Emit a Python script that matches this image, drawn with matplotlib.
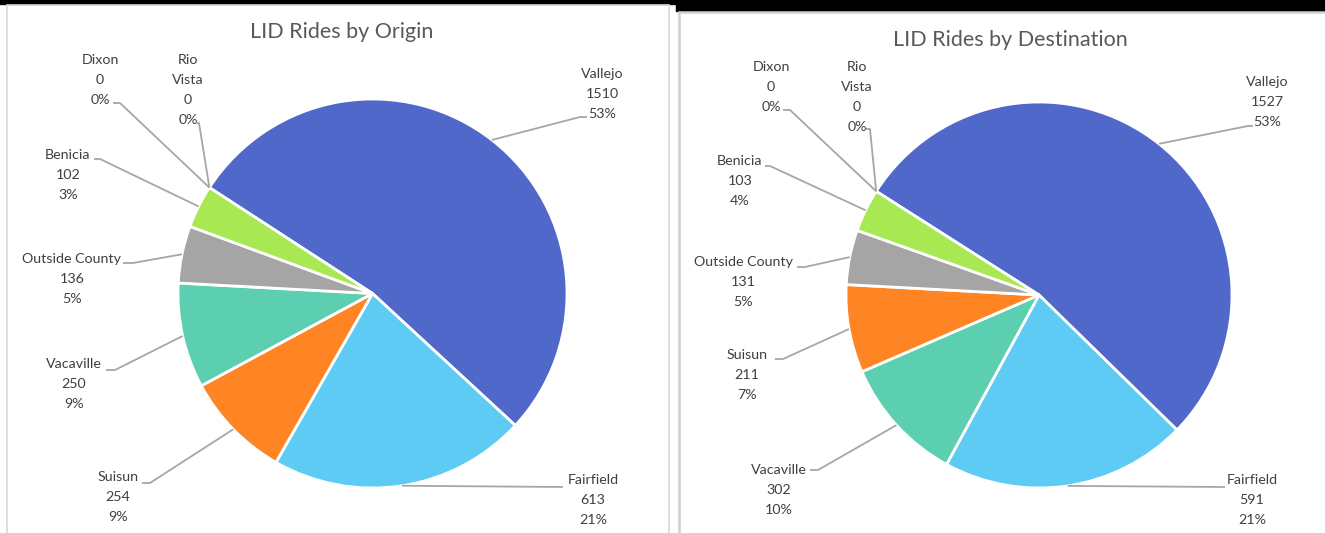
import numpy as np
import matplotlib
matplotlib.use('Agg')
import matplotlib.pyplot as plt
from matplotlib.patches import Rectangle

W, H = 1325, 533

# data
origin_names = ['Vallejo', 'Fairfield', 'Suisun', 'Vacaville', 'Outside County', 'Benicia', 'Dixon', 'Rio\nVista']
origin_rides = [1510, 613, 254, 250, 136, 102, 0, 0]
origin_pct = ['53%', '21%', '9%', '9%', '5%', '3%', '0%', '0%']

dest_names = ['Vallejo', 'Fairfield', 'Vacaville', 'Suisun', 'Outside County', 'Benicia', 'Dixon', 'Rio\nVista']
dest_rides = [1527, 591, 302, 211, 131, 103, 0, 0]
dest_pct = ['53%', '21%', '10%', '7%', '5%', '4%', '0%', '0%']

city_colors = {
    'Vallejo': '#5068C9', 'Fairfield': '#5DCBF3', 'Suisun': '#FF8424',
    'Vacaville': '#5CCFB1', 'Outside County': '#A5A5A5', 'Benicia': '#A8E853',
    'Dixon': '#FFFFFF', 'Rio\nVista': '#FFFFFF',
}

# label layout in pixels: text centre x, text centre y, elbow x, elbow y, tail x
origin_layout = [
    (602, 94, 580, 117, 587), (593, 500, 563, 487, 563), (118, 497, 150, 483, 142),
    (74, 384, 115, 370, 106), (72, 279, 133, 263, 123), (68, 175, 100, 159, 94),
    (100, 80, 120, 103, 113), (188, 90, 199, 123, 197),
]
dest_layout = [
    (1267, 102, 1248, 126, 1253), (1252, 500, 1225, 487, 1225), (779, 490, 818, 470, 810),
    (747, 375, 783, 359, 775), (743, 282, 805, 267, 797), (740, 181, 770, 166, 765),
    (771, 87, 790, 110, 783), (857, 97, 870, 129, 866),
]

plt.rcParams['font.family'] = ['Lato', 'DejaVu Sans']

fig = plt.figure(figsize=(W / 100, H / 100), dpi=100)
ax = fig.add_axes([0, 0, 1, 1])


def Y(y):
    return H - y


def drawPie(names, rides, pct, layout, center, radius, start, title, title_xy):
    cx, cy = center
    vals = np.array(rides, dtype=float)
    keep = vals > 0
    cols = [city_colors[n] for n, k in zip(names, keep) if k]
    ax.pie(vals[keep], colors=cols, startangle=start, counterclock=False,
           center=(cx, Y(cy)), radius=radius, frame=True,
           wedgeprops=dict(edgecolor='white', linewidth=2))
    # mid angle of each wedge, used for the leader line anchor
    fracs = vals / vals.sum()
    ends = start - np.cumsum(fracs) * 360
    mids = ends + fracs * 180
    for name, v, p, mid, lay in zip(names, rides, pct, mids, layout):
        tx, ty, ex, ey, tail = lay
        a = np.deg2rad(mid)
        px = cx + radius * np.cos(a)
        py = Y(cy) + radius * np.sin(a)
        ax.plot([px, ex, tail], [py, Y(ey), Y(ey)], color='#A6A6A6', lw=1.3,
                solid_capstyle='butt')
        ax.text(tx, Y(ty), name + '\n' + str(v) + '\n' + p, ha='center', va='center',
                multialignment='center', fontsize=10.3, color='#404040', linespacing=1.78)
    ax.text(title_xy[0], Y(title_xy[1]), title, ha='center', va='center',
            fontsize=15.5, color='#595959')


# chart frames and the dark strip at the top of the screenshot
ax.add_patch(Rectangle((0, Y(4)), W, 4, color='black', zorder=0))
ax.add_patch(Rectangle((676, Y(11)), W - 676, 11, color='black', zorder=0))
ax.add_patch(Rectangle((7, -10), 662, Y(5) + 10, fill=False, ec='#D9D9D9', lw=1.2, zorder=0))
ax.add_patch(Rectangle((679, -10), 660, Y(12) + 10, fill=False, ec='#D0D0D0', lw=1.8, zorder=0))

drawPie(origin_names, origin_rides, origin_pct, origin_layout, (372.5, 293.5), 194.5, 147,
        'LID Rides by Origin', (342, 32))
drawPie(dest_names, dest_rides, dest_pct, dest_layout, (1039, 295), 193, 147.5,
        'LID Rides by Destination', (1010, 40))

ax.set_xlim(0, W)
ax.set_ylim(0, H)
ax.set_aspect('equal')
ax.axis('off')

fig.savefig('out.png', dpi=100)
